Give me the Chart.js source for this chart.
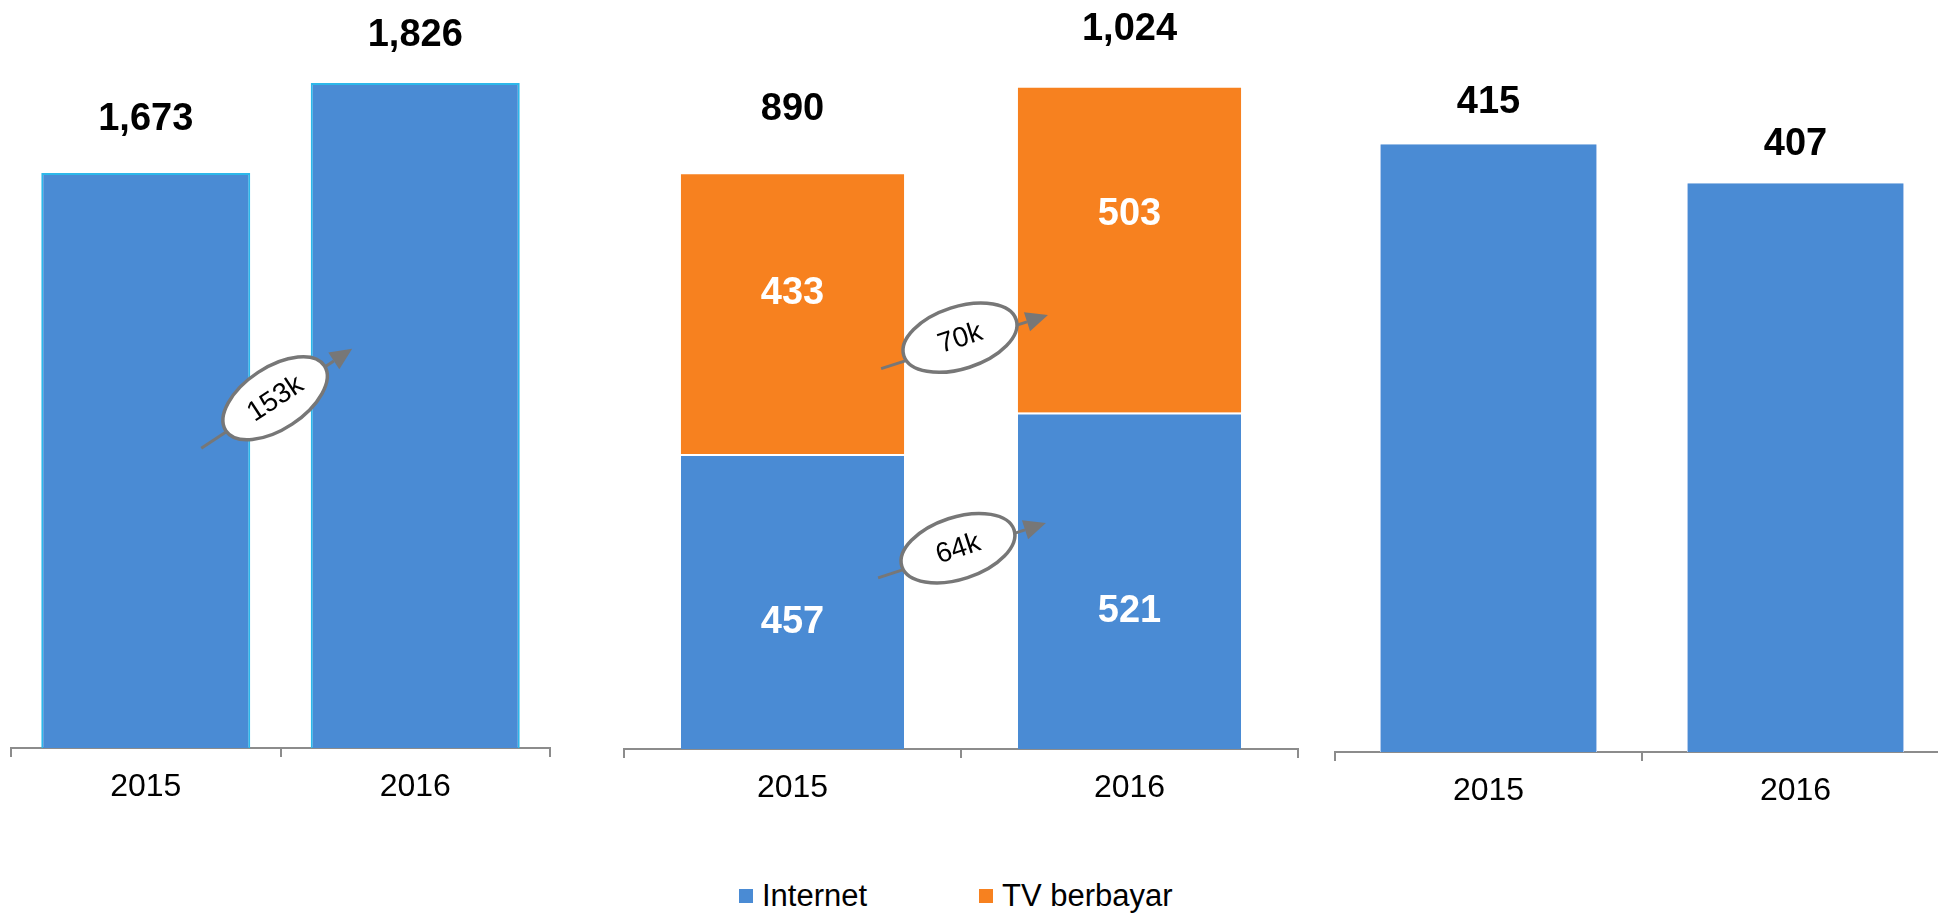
<!DOCTYPE html>
<html><head><meta charset="utf-8">
<script src="https://cdn.jsdelivr.net/npm/chart.js@4.4.1/dist/chart.umd.min.js"></script>
<style>
html,body{margin:0;padding:0;background:#fff;overflow:hidden;width:1938px;height:913px;position:relative;}
canvas{position:absolute;top:0;}
.lg{position:absolute;font-family:"Liberation Sans",Arial,sans-serif;font-size:31px;line-height:31px;color:#000;white-space:nowrap;}
.sw{position:absolute;width:14px;height:14px;}
</style></head><body>
<canvas id="c1" width="543" height="830" style="left:9px"></canvas>
<canvas id="c2" width="678" height="830" style="left:622px"></canvas>
<canvas id="c3" width="618" height="830" style="left:1333px"></canvas>
<div class="sw" style="left:739px;top:889px;background:#4A8BD4"></div>
<div class="lg" id="lg1" style="left:762px;top:880px"></div>
<div class="sw" style="left:979px;top:889px;background:#F7811F"></div>
<div class="lg" id="lg2" style="left:1002px;top:880px"></div>
<script>
// ---- data ----
const years = ['2015', '2016'];
const seriesNames = ['Internet', 'TV berbayar'];
const panel1Internet = [1673, 1826];
const panel2Internet = [457, 521];
const panel2TV = [433, 503];
const panel3Internet = [415, 407];
const growthPanel1 = '153k';
const growthTV = '70k';
const growthInternet = '64k';

// ---- style ----
const FONT = '"Liberation Sans", Arial, sans-serif';
const BLUE = '#4A8BD4';
const ORANGE = '#F7811F';
const AXIS = '#8c8c8c';

document.getElementById('lg1').textContent = seriesNames[0];
document.getElementById('lg2').textContent = seriesNames[1];

const fmt = v => v.toLocaleString('en-US');

const labelPlugin = {
  id: 'valueLabels',
  afterDatasetsDraw(chart, args, opts) {
    const ctx = chart.ctx;
    const n = chart.data.labels.length;
    const xs = chart.scales.x, ys = chart.scales.y;
    ctx.save();
    ctx.textAlign = 'center';
    ctx.textBaseline = 'middle';
    ctx.font = 'bold 38px ' + FONT;
    (opts.inside || []).forEach(cfg => {
      const meta = chart.getDatasetMeta(cfg.dataset);
      const ds = chart.data.datasets[cfg.dataset];
      meta.data.forEach((bar, i) => {
        ctx.fillStyle = '#fff';
        ctx.fillText(fmt(ds.data[i]), bar.x, (bar.y + bar.base) / 2 + cfg.offsets[i]);
      });
    });
    if (opts.totalOffsets) {
      const lastMeta = chart.getDatasetMeta(chart.data.datasets.length - 1);
      for (let i = 0; i < n; i++) {
        const total = chart.data.datasets.reduce((s, d) => s + d.data[i], 0);
        const bar = lastMeta.data[i];
        ctx.fillStyle = '#000';
        ctx.fillText(fmt(total), bar.x, bar.y - opts.totalOffsets[i]);
      }
    }
    (opts.arrows || []).forEach(a => {
      const p0 = [xs.getPixelForValue(a.from[0]), ys.getPixelForValue(a.from[1])];
      const p1 = [xs.getPixelForValue(a.to[0]), ys.getPixelForValue(a.to[1])];
      const c = [xs.getPixelForValue(a.center[0]), ys.getPixelForValue(a.center[1])];
      const ang = Math.atan2(p1[1] - p0[1], p1[0] - p0[0]);
      const headLen = 22, headW = 10;
      const le = [p1[0] - headLen * Math.cos(ang), p1[1] - headLen * Math.sin(ang)];
      ctx.strokeStyle = '#777';
      ctx.fillStyle = '#777';
      ctx.lineWidth = 3;
      ctx.beginPath(); ctx.moveTo(p0[0], p0[1]); ctx.lineTo(le[0], le[1]); ctx.stroke();
      ctx.beginPath();
      ctx.moveTo(p1[0], p1[1]);
      ctx.lineTo(le[0] + headW * Math.sin(ang), le[1] - headW * Math.cos(ang));
      ctx.lineTo(le[0] - headW * Math.sin(ang), le[1] + headW * Math.cos(ang));
      ctx.closePath(); ctx.fill();
      ctx.beginPath();
      ctx.ellipse(c[0], c[1], 59, 31, ang, 0, Math.PI * 2);
      ctx.fillStyle = '#fff'; ctx.fill();
      ctx.lineWidth = 3.5; ctx.stroke();
      ctx.save();
      ctx.translate(c[0], c[1]); ctx.rotate(ang);
      ctx.fillStyle = '#000';
      ctx.font = '28px ' + FONT;
      ctx.fillText(a.text, 0, 1);
      ctx.restore();
    });
    ctx.restore();
  }
};

function options(yMin, yMax, axisH, labelOpts) {
  return {
    responsive: false,
    animation: false,
    events: [],
    layout: { padding: { left: 2, right: 2, top: 0, bottom: 0 } },
    plugins: { legend: { display: false }, tooltip: { enabled: false }, valueLabels: labelOpts },
    scales: {
      x: {
        stacked: true,
        grid: { display: true, drawOnChartArea: false, drawTicks: true, tickLength: 9, color: AXIS, lineWidth: 2, offset: true },
        border: { display: true, color: AXIS, width: 2 },
        ticks: { color: '#000', font: { family: FONT, size: 32 }, padding: 11, maxRotation: 0 },
        afterFit: s => { s.height = axisH; }
      },
      y: { display: false, stacked: true, min: yMin, max: yMax }
    }
  };
}

new Chart(document.getElementById('c1'), {
  type: 'bar',
  data: { labels: years, datasets: [{
    label: seriesNames[0], data: panel1Internet, backgroundColor: BLUE,
    borderColor: '#2DB8EA', borderWidth: 2, barPercentage: 0.7755, categoryPercentage: 1
  }] },
  options: options(695.5, 1967, 82, {
    totalOffsets: [53, 47],
    arrows: [{ from: [0.206, 1205], to: [0.766, 1374], center: [0.48, 1290], text: growthPanel1 }]
  }),
  plugins: [labelPlugin]
});

new Chart(document.getElementById('c2'), {
  type: 'bar',
  data: { labels: years, datasets: [
    { label: seriesNames[0], data: panel2Internet, backgroundColor: BLUE, borderColor: '#fff',
      borderWidth: { top: 2, left: 0, right: 0, bottom: 0 }, borderSkipped: false,
      barPercentage: 0.662, categoryPercentage: 1 },
    { label: seriesNames[1], data: panel2TV, backgroundColor: ORANGE, borderWidth: 0,
      barPercentage: 0.662, categoryPercentage: 1 }
  ] },
  options: options(0, 1160, 81, {
    totalOffsets: [65, 58],
    inside: [{ dataset: 0, offsets: [21, 31] }, { dataset: 1, offsets: [-21, -36] }],
    arrows: [
      { from: [0.263, 589], to: [0.758, 672], center: [0.497, 637], text: growthTV },
      { from: [0.254, 265], to: [0.752, 350], center: [0.491, 311], text: growthInternet }
    ]
  }),
  plugins: [labelPlugin]
});

new Chart(document.getElementById('c3'), {
  type: 'bar',
  data: { labels: years, datasets: [{
    label: seriesNames[0], data: panel3Internet, backgroundColor: BLUE,
    borderColor: '#b5cdee', borderWidth: { top: 0, left: 1, right: 1, bottom: 0 }, borderSkipped: false,
    barPercentage: 0.707, categoryPercentage: 1
  }] },
  options: options(290.3, 444.6, 78, { totalOffsets: [42, 39] }),
  plugins: [labelPlugin]
});
</script>
</body></html>
